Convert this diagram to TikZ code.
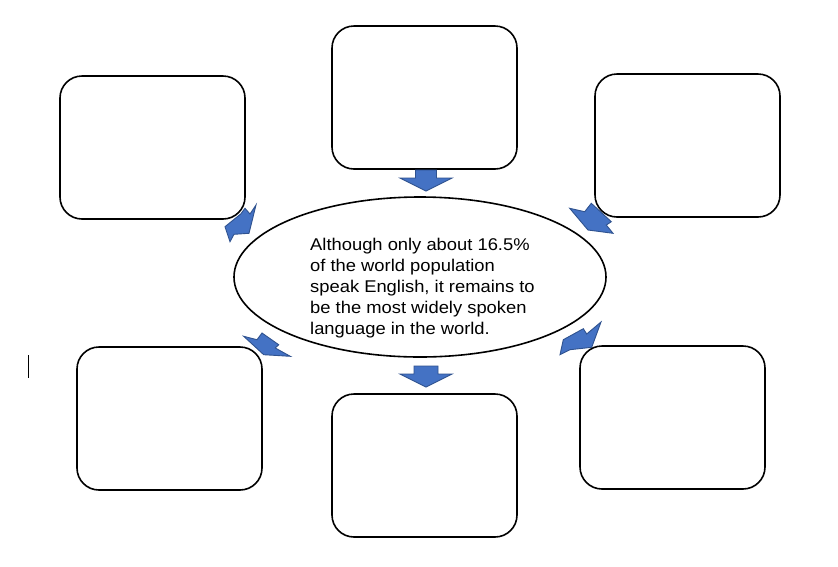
\documentclass[tikz,border=0pt]{standalone}
\usepackage{fontspec}
\setmainfont{Liberation Sans}
\usetikzlibrary{shapes.geometric}
\definecolor{arrowblue}{HTML}{4472C4}
\definecolor{arrowedge}{HTML}{2F528F}
\tikzset{
  emptybox/.style={draw=black, line width=1.6pt, rounded corners=22pt,
    minimum width=185pt, minimum height=143pt, inner sep=0pt},
  blockarrow/.style={draw=arrowedge, fill=arrowblue, line width=0.9pt},
}
\def\arrowdown[#1](#2){\draw[blockarrow,shift={(#2)}] (0,11) -- (-26,-2) -- (-#1,-2) -- (-#1,-10) -- (#1,-10) -- (#1,-2) -- (26,-2) -- cycle;}

\begin{document}
\begin{tikzpicture}[x=1pt, y=-1pt]
		%%%%% START %%%%%
		\useasboundingbox[fill=white] (0,0) rectangle (838,566);
		
		\node[emptybox] (topbox) at (424.5, 97.5) {};
		\node[emptybox] (topleftbox) at (152.5, 147.5) {};
		\node[emptybox] (toprightbox) at (687.5, 145.5) {};
		\node[emptybox] (botleftbox) at (169.5, 418.5) {};
		\node[emptybox] (botbox) at (424.5, 465.5) {};
		\node[emptybox] (botrightbox) at (672.5, 417.5) {};
		
		\node[ellipse, draw=black, line width=1.6pt, minimum width=372pt, minimum height=160pt] (centre) at (420, 277) {};
		\node[anchor=north west, inner sep=0pt, align=left,
			font=\fontsize{17pt}{21pt}\selectfont\addfontfeature{FakeStretch=1.08}] (fact) at (310, 238)
			{Although only about 16.5\%\\of the world population\\speak English, it remains to\\be the most widely spoken\\language in the world.};
		
		% top and bottom
		\arrowdown[10.5](426, 180)
		\arrowdown[12](426, 376)
		% the four skewed ones
		\draw[blockarrow] (225,226.7) -- (240.7,214) -- (245,208.3) -- (250,214) -- (256,205) -- (249,233.3) -- (234,234.3) -- (230,241.7) -- cycle;
		\draw[blockarrow] (569.7,208.3) -- (584.7,211.7) -- (591.3,203.3) -- (611.3,221.7) -- (606.3,225) -- (613,233.3) -- (588,230) -- cycle;
		\draw[blockarrow] (243.7,336.3) -- (257,339.7) -- (262,333) -- (278.7,344.7) -- (275.3,348) -- (290.3,356.3) -- (263.7,354.7) -- cycle;
		\draw[blockarrow] (560,354.7) -- (563.3,339.7) -- (583.3,328.7) -- (586.7,334) -- (601,322) -- (591.7,347.3) -- (570,349.7) -- cycle;
		
		\draw[line width=1pt] (28, 355) -- (28, 378);
		%%%%% END %%%%%
\end{tikzpicture}
\end{document}
